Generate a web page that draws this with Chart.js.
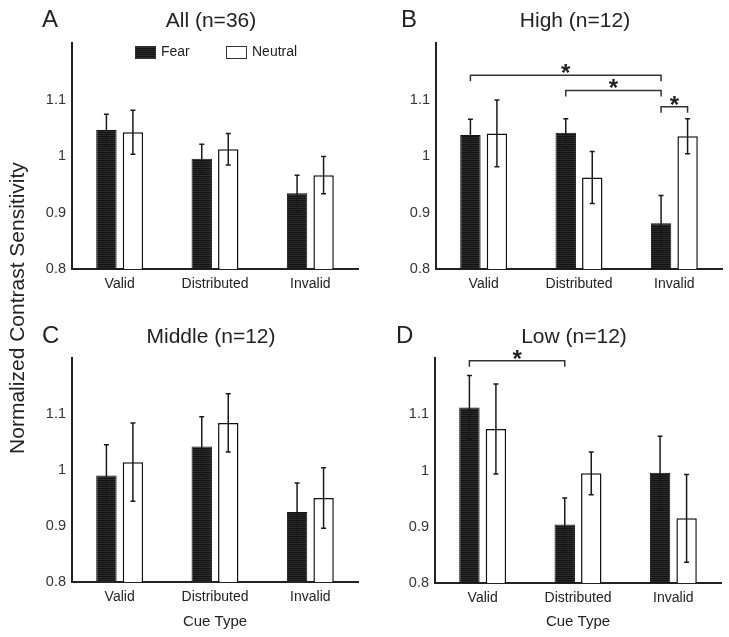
<!DOCTYPE html>
<html>
<head>
<meta charset="utf-8">
<script src="https://cdn.jsdelivr.net/npm/chart.js@4.4.0/dist/chart.umd.min.js"></script>
<style>
  body { margin: 0; background: #fff; width: 729px; height: 637px; position: relative; overflow: hidden; }
  canvas { position: absolute; }
  #ylabel {
    position: absolute; left: -143px; top: 296px; width: 320px; line-height: 24px;
    text-align: center; font: 21px 'Liberation Sans', Arial, sans-serif; color: #222;
    transform: rotate(-90deg);
  }
</style>
</head>
<body>
<canvas id="panelA" width="365" height="310" style="left:0;top:0"></canvas>
<canvas id="panelB" width="364" height="310" style="left:365px;top:0"></canvas>
<canvas id="panelC" width="365" height="327" style="left:0;top:310px"></canvas>
<canvas id="panelD" width="364" height="327" style="left:365px;top:310px"></canvas>
<div id="ylabel">Normalized Contrast Sensitivity</div>
<script>
const categories = ['Valid', 'Distributed', 'Invalid'];
const seriesNames = ['Fear', 'Neutral'];
const yTicks = [0.8, 0.9, 1, 1.1];

// All (n=36)
const allFear = [1.046, 0.995, 0.934];
const allFearErr = [0.028, 0.026, 0.032];
const allNeutral = [1.042, 1.012, 0.966];
const allNeutralErr = [0.039, 0.028, 0.033];

// High (n=12)
const highFear = [1.037, 1.041, 0.881];
const highFearErr = [0.028, 0.025, 0.049];
const highNeutral = [1.040, 0.962, 1.035];
const highNeutralErr = [0.059, 0.046, 0.031];

// Middle (n=12)
const midFear = [0.990, 1.042, 0.925];
const midFearErr = [0.055, 0.053, 0.052];
const midNeutral = [1.014, 1.084, 0.950];
const midNeutralErr = [0.070, 0.052, 0.054];

// Low (n=12)
const lowFear = [1.112, 0.904, 0.996];
const lowFearErr = [0.057, 0.047, 0.065];
const lowNeutral = [1.074, 0.995, 0.915];
const lowNeutralErr = [0.080, 0.038, 0.078];

// significance brackets: [category1, series1, category2, series2, level]
const highBrackets = [[0, 0, 2, 0, 1.143], [1, 0, 2, 0, 1.116], [2, 0, 2, 1, 1.087]];
const lowBrackets = [[0, 0, 1, 0, 1.195]];

const FONT = "'Liberation Sans', Arial, sans-serif";
const INK = '#222';

function fearPattern() {
    const c = document.createElement('canvas');
    c.width = 4; c.height = 2;
    const g = c.getContext('2d');
    g.fillStyle = '#121212'; g.fillRect(0, 0, 4, 2);
    g.fillStyle = '#2c2c2c'; g.fillRect(0, 1, 4, 1);
    return g.createPattern(c, 'repeat');
}

const errorBars = {
    id: 'errorBars',
    afterDatasetsDraw(chart) {
        const { ctx, scales: { y } } = chart;
        ctx.save();
        ctx.strokeStyle = '#1a1a1a';
        ctx.lineWidth = 1.5;
        chart.data.datasets.forEach((ds, i) => {
            chart.getDatasetMeta(i).data.forEach((bar, j) => {
                const hi = y.getPixelForValue(ds.data[j] + ds.errors[j]);
                const lo = y.getPixelForValue(ds.data[j] - ds.errors[j]);
                ctx.beginPath();
                ctx.moveTo(bar.x, hi); ctx.lineTo(bar.x, lo);
                ctx.moveTo(bar.x - 2.5, hi); ctx.lineTo(bar.x + 2.5, hi);
                ctx.moveTo(bar.x - 2.5, lo); ctx.lineTo(bar.x + 2.5, lo);
                ctx.stroke();
            });
        });
        ctx.restore();
    }
};

const brackets = {
    id: 'brackets',
    afterDatasetsDraw(chart, args, opts) {
        if (!opts.list) return;
        const { ctx, scales: { y } } = chart;
        ctx.save();
        ctx.strokeStyle = '#333';
        ctx.lineWidth = 1.5;
        ctx.fillStyle = INK;
        ctx.font = 'bold 24px ' + FONT;
        ctx.textAlign = 'center';
        ctx.textBaseline = 'alphabetic';
        opts.list.forEach(([c1, d1, c2, d2, level]) => {
            const x1 = chart.getDatasetMeta(d1).data[c1].x;
            const x2 = chart.getDatasetMeta(d2).data[c2].x;
            const yy = y.getPixelForValue(level);
            ctx.beginPath();
            ctx.moveTo(x1, yy + 6); ctx.lineTo(x1, yy); ctx.lineTo(x2, yy); ctx.lineTo(x2, yy + 6);
            ctx.stroke();
            ctx.fillText('*', (x1 + x2) / 2, yy + 6);
        });
        ctx.restore();
    }
};

const panelText = {
    id: 'panelText',
    afterDraw(chart, args, opts) {
        const { ctx, chartArea } = chart;
        ctx.save();
        ctx.fillStyle = INK;
        ctx.textBaseline = 'alphabetic';
        ctx.font = '24px ' + FONT;
        ctx.textAlign = 'left';
        ctx.fillText(opts.letter, opts.letterX, opts.baseline);
        ctx.font = '21px ' + FONT;
        ctx.textAlign = 'center';
        ctx.fillText(opts.title, (chartArea.left + chartArea.right) / 2 - 4, opts.baseline);
        ctx.restore();
    }
};

const legendBoxes = {
    id: 'legendBoxes',
    afterDraw(chart, args, opts) {
        if (!opts.show) return;
        const { ctx, chartArea } = chart;
        ctx.save();
        ctx.font = '14px ' + FONT;
        ctx.textBaseline = 'middle';
        ctx.fillStyle = INK;
        chart.data.datasets.forEach((ds, i) => {
            const x = chartArea.left + opts.offsets[i];
            const top = chartArea.top + 3;
            ctx.fillStyle = ds.backgroundColor;
            ctx.fillRect(x, top, 20, 12);
            ctx.strokeStyle = '#333';
            ctx.lineWidth = 1;
            ctx.strokeRect(x + 0.5, top + 0.5, 20, 12);
            ctx.fillStyle = INK;
            ctx.fillText(ds.label, x + 26, top + 6.5);
        });
        ctx.restore();
    }
};

const panels = [
    { id: 'panelA', letter: 'A', title: 'All (n=36)', fear: allFear, fearErr: allFearErr, neutral: allNeutral, neutralErr: allNeutralErr,
      brackets: null, legend: true, xTitle: false, size: [365, 310], area: [72, 43, 358, 269], letterX: 42, baseline: 27 },
    { id: 'panelB', letter: 'B', title: 'High (n=12)', fear: highFear, fearErr: highFearErr, neutral: highNeutral, neutralErr: highNeutralErr,
      brackets: highBrackets, legend: false, xTitle: false, size: [364, 310], area: [71, 43, 357, 269], letterX: 36, baseline: 27 },
    { id: 'panelC', letter: 'C', title: 'Middle (n=12)', fear: midFear, fearErr: midFearErr, neutral: midNeutral, neutralErr: midNeutralErr,
      brackets: null, legend: false, xTitle: true, size: [365, 327], area: [72, 48, 358, 272], letterX: 42, baseline: 33 },
    { id: 'panelD', letter: 'D', title: 'Low (n=12)', fear: lowFear, fearErr: lowFearErr, neutral: lowNeutral, neutralErr: lowNeutralErr,
      brackets: lowBrackets, legend: false, xTitle: true, size: [364, 327], area: [70, 48, 356, 273], letterX: 31, baseline: 33 }
];

document.addEventListener('DOMContentLoaded', () => panels.forEach(renderPanel));

function renderPanel(p) {
    const [W, H] = p.size;
    const [left, top, right, bottom] = p.area;
    const ctx = document.getElementById(p.id).getContext('2d');

    new Chart(ctx, {
        type: 'bar',
        data: {
            labels: categories,
            datasets: [
                { label: seriesNames[0], data: p.fear, errors: p.fearErr, backgroundColor: fearPattern(),
                  borderColor: '#111', borderWidth: 1 },
                { label: seriesNames[1], data: p.neutral, errors: p.neutralErr, backgroundColor: '#fff',
                  borderColor: '#111', borderWidth: 1.5 }
            ]
        },
        options: {
            responsive: false,
            animation: false,
            devicePixelRatio: 1,
            categoryPercentage: 0.556,
            barPercentage: 0.77,
            layout: { padding: { top: top, right: W - right, left: 0, bottom: 0 } },
            plugins: {
                legend: { display: false },
                tooltip: { enabled: false },
                panelText: { letter: p.letter, title: p.title, letterX: p.letterX, baseline: p.baseline },
                legendBoxes: { show: p.legend, offsets: [63, 154] },
                brackets: { list: p.brackets }
            },
            scales: {
                x: {
                    grid: { display: false, drawTicks: false },
                    border: { display: true, color: INK, width: 2 },
                    ticks: { color: INK, font: { family: FONT, size: 14 }, padding: 7 },
                    title: { display: p.xTitle, text: 'Cue Type', color: INK,
                             font: { family: FONT, size: 15 }, padding: { top: 0, bottom: 6 } },
                    afterFit: s => { s.height = H - bottom; }
                },
                y: {
                    min: 0.8,
                    max: 1.2,
                    grid: { display: false, drawTicks: false },
                    border: { display: true, color: INK, width: 2 },
                    afterBuildTicks: s => { s.ticks = yTicks.map(v => ({ value: v })); },
                    ticks: { color: '#333', font: { family: FONT, size: 14.5 }, padding: 6,
                             callback: v => String(v) },
                    afterFit: s => { s.width = left; }
                }
            }
        },
        plugins: [errorBars, brackets, panelText, legendBoxes]
    });
}
</script>
</body>
</html>
